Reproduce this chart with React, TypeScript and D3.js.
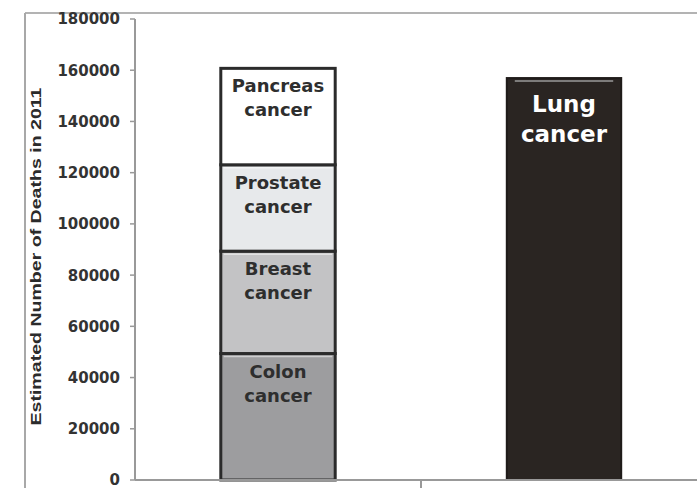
import React from "react";
import * as d3 from "d3";

const categories = ["Four cancers", "Lung cancer"];
const segmentNames = ["Colon cancer", "Breast cancer", "Prostate cancer", "Pancreas cancer"];
const segmentValues = [49380, 39970, 33720, 37660];
const segmentColors = ["#9d9d9f", "#c3c3c5", "#e7e9eb", "#ffffff"];
const lungName = "Lung cancer";
const lungValue = 156940;
const lungColor = "#2a2522";
const yTicks = [0, 20000, 40000, 60000, 80000, 100000, 120000, 140000, 160000, 180000];
const yTitle = "Estimated Number of Deaths in 2011";

const W = 697;
const H = 488;
const axisX = 135;
const y0 = 480;
const yTop = 19;

export default function App() {
  const y = d3.scaleLinear().domain([0, 180000]).range([y0, yTop]);
  const x = d3
    .scaleBand<string>()
    .domain(categories)
    .range([axisX, axisX + 572])
    .paddingInner(0.6)
    .paddingOuter(0.3);
  const step = x.step();

  const row: Record<string, number> = {};
  segmentNames.forEach((n, i) => (row[n] = segmentValues[i]));
  const stacked = d3.stack<Record<string, number>>().keys(segmentNames)([row]);

  const bx0 = x(categories[0])!;
  const bx1 = x(categories[1])!;
  const bw = x.bandwidth();
  const font = "'DejaVu Sans', sans-serif";

  return (
    <svg
      width={W}
      height={H}
      style={{ position: "absolute", left: 0, top: 0, background: "#fff" }}
    >
      {/* outer frame */}
      <line x1={25} y1={13} x2={W} y2={13} stroke="#b3b3b3" strokeWidth={2} />
      <line x1={25} y1={13} x2={25} y2={H} stroke="#a8a8a8" strokeWidth={2} />

      {/* y title */}
      <text
        transform={`translate(41,${(85 + 428) / 2}) rotate(-90)`}
        textAnchor="middle"
        fontFamily="'Liberation Sans', Arial, sans-serif"
        fontWeight="bold"
        fontSize={15}
        fill="#2b2b2b"
        textLength={338}
        lengthAdjust="spacingAndGlyphs"
      >
        {yTitle}
      </text>

      {/* y ticks */}
      {yTicks.map((t) => (
        <g key={t}>
          <line x1={axisX - 5} x2={axisX} y1={y(t)} y2={y(t)} stroke="#999" strokeWidth={1.5} />
          <text
            x={120}
            y={y(t)}
            dy="0.36em"
            textAnchor="end"
            fontFamily={font}
            fontWeight="bold"
            fontSize={15}
            fill="#333"
          >
            {t}
          </text>
        </g>
      ))}

      {/* stacked bar */}
      {stacked.map((s, i) => {
        const d = s[0];
        const top = y(d[1]);
        const bot = y(d[0]);
        const lines = segmentNames[i].split(" ");
        return (
          <g key={segmentNames[i]}>
            <rect
              x={bx0}
              y={top}
              width={bw}
              height={bot - top}
              fill={segmentColors[i]}
              stroke="#2b2b2b"
              strokeWidth={3}
            />
            <line
              x1={bx0 + 3}
              x2={bx0 + bw - 3}
              y1={top + 3}
              y2={top + 3}
              stroke="#ffffff"
              strokeOpacity={0.5}
              strokeWidth={1.5}
            />
            {lines.map((l, j) => (
              <text
                key={j}
                x={bx0 + bw / 2}
                y={top + 24 + j * 24}
                textAnchor="middle"
                fontFamily={font}
                fontWeight="bold"
                fontSize={18}
                fill="#2e2e2e"
              >
                {l}
              </text>
            ))}
          </g>
        );
      })}

      {/* lung bar */}
      <rect
        x={bx1}
        y={y(lungValue)}
        width={bw}
        height={y0 - y(lungValue)}
        fill={lungColor}
        stroke="#1f1b19"
        strokeWidth={2}
      />
      <line
        x1={bx1 + 8}
        x2={bx1 + bw - 8}
        y1={y(lungValue) + 3}
        y2={y(lungValue) + 3}
        stroke="#9a9a9a"
        strokeWidth={1.5}
      />
      {lungName.split(" ").map((l, j) => (
        <text
          key={j}
          x={bx1 + bw / 2}
          y={y(lungValue) + 34 + j * 30}
          textAnchor="middle"
          fontFamily={font}
          fontWeight="bold"
          fontSize={23}
          fill="#ffffff"
        >
          {l}
        </text>
      ))}

      {/* axes */}
      <line x1={axisX} x2={axisX} y1={yTop} y2={y0} stroke="#999" strokeWidth={2} />
      <line x1={axisX} x2={W} y1={y0} y2={y0} stroke="#999" strokeWidth={2} />
      <line x1={axisX + step} x2={axisX + step} y1={y0} y2={H} stroke="#999" strokeWidth={2} />
    </svg>
  );
}
